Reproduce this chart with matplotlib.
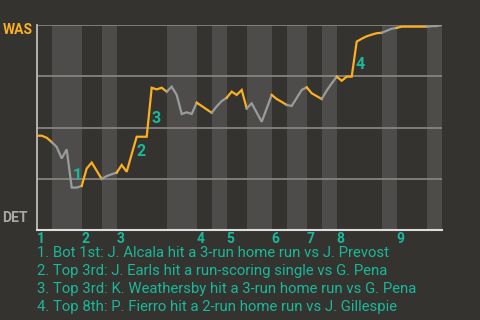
import matplotlib
matplotlib.use('Agg')
import matplotlib.pyplot as plt

# win probability for WAS (%), one value per plate appearance
wp = [46.0, 46.0, 45.0, 42.9, 40.5, 34.9, 39.3, 20.7, 20.7, 21.5,
      30.0, 32.9, 28.9, 24.9, 26.3, 27.2, 28.0, 31.7, 28.4, 37.0,
      45.5, 45.5, 45.5, 69.4, 68.6, 69.4, 67.5, 69.9, 65.9, 56.6,
      57.4, 56.6, 62.1, 60.5, 58.8, 57.2, 60.3, 62.9, 64.5, 67.5,
      65.9, 68.3, 59.3, 61.8, 57.3, 52.8, 59.3, 65.9, 63.9, 62.5,
      61.0, 60.5, 64.4, 68.3, 69.6, 66.7, 65.3, 63.9, 68.0, 71.5,
      74.8, 72.8, 74.8, 74.8, 91.9, 93.3, 94.5, 95.3, 96.0, 96.2,
      97.2, 98.2, 98.6, 99.2, 99.2, 99.2, 99.2, 99.2, 99.2, 99.4,
      99.5, 100.0]

# plate appearance index where each half inning starts (last = end of game)
half_starts = [0, 3, 9, 13, 16, 26, 32, 35, 38, 42, 47, 50, 54, 57, 60, 69, 72, 78, 81]
innings = ['1', '2', '3', '4', '5', '6', '7', '8', '9']

# big plays: label, x, y
play_ids = ['1', '2', '3', '4']
play_x = [7.2, 20.0, 23.0, 63.8]
play_y = [26.8, 38.2, 54.5, 80.5]
plays = [
    '1. Bot 1st: J. Alcala hit a 3-run home run vs J. Prevost',
    '2. Top 3rd: J. Earls hit a run-scoring single vs G. Pena',
    '3. Top 3rd: K. Weathersby hit a 3-run home run vs G. Pena',
    '4. Top 8th: P. Fierro hit a 2-run home run vs J. Gillespie',
]

bg = '#35332f'
band = '#4d4c4a'
orange = '#fbb021'
grey = '#989c9d'
teal = '#19b89a'

plt.rcParams['font.family'] = ['Roboto', 'DejaVu Sans']

fig = plt.figure(figsize=(4.8, 3.2), dpi=100, facecolor=bg)
ax = fig.add_axes([36.7 / 480, 90 / 320, 405 / 480, 205 / 320])
ax.set_facecolor(bg)

n = len(wp) - 1
ax.set_xlim(0, n)
ax.set_ylim(0, 100)

# shade bottom halves
for i in range(1, len(half_starts) - 1, 2):
    ax.axvspan(half_starts[i], half_starts[i + 1], color=band, lw=0, zorder=0)

for g in [25, 50, 75, 100]:
    ax.axhline(g, color='#8a8986', lw=1.2, zorder=1)

# line coloured by team at bat
for i in range(len(half_starts) - 1):
    a, b = half_starts[i], half_starts[i + 1]
    c = orange if i % 2 == 0 else grey
    ax.plot(range(a, b + 1), wp[a:b + 1], color=c, lw=1.6, zorder=3,
            solid_joinstyle='miter')

for lab, x, y in zip(play_ids, play_x, play_y):
    ax.text(x, y, lab, color=teal, fontsize=11.5, fontweight='bold',
            ha='left', va='center', zorder=4)

for k, lab in enumerate(innings):
    ax.text(half_starts[2 * k], -1.2, lab, color=teal, fontsize=10,
            fontweight='bold', ha='left', va='top')

for s in ['top', 'right']:
    ax.spines[s].set_visible(False)
ax.spines['left'].set_color('#c8c8c8')
ax.spines['bottom'].set_color('#dddddd')
ax.spines['left'].set_linewidth(1.2)
ax.spines['bottom'].set_linewidth(1.5)
ax.set_xticks([])
ax.set_yticks([])

fig.text(2.5 / 480, 1 - 30.5 / 320, 'WAS', color=orange, fontsize=10,
         fontweight='bold', va='center', ha='left')
fig.text(2.5 / 480, 1 - 218 / 320, 'DET', color='#a9a9a9', fontsize=10,
         fontweight='bold', va='center', ha='left')

for k, t in enumerate(plays):
    fig.text(37 / 480, 1 - (257 + 18 * k) / 320, t, color=teal,
             fontsize=10.7, va='baseline', ha='left')

fig.savefig('out.png', dpi=100, facecolor=bg)
